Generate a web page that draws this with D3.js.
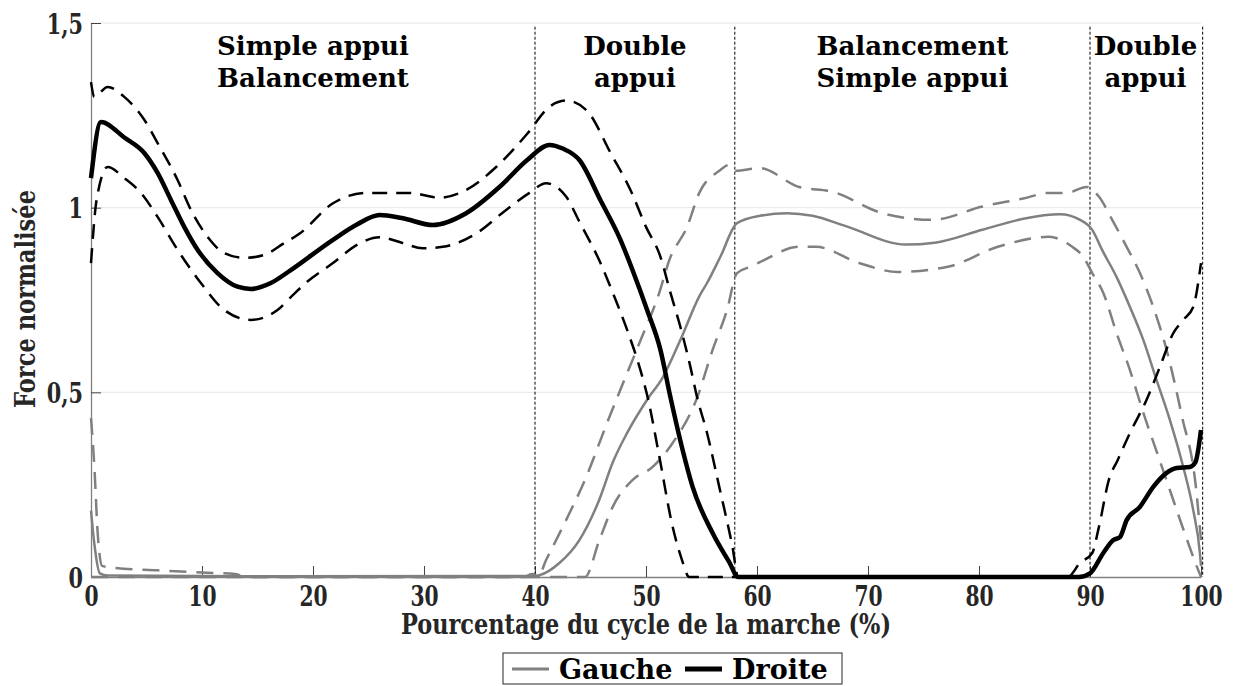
<!DOCTYPE html>
<html>
<head>
<meta charset="utf-8">
<script src="https://cdn.jsdelivr.net/npm/d3@7"></script>
<style>
  body { margin: 0; background: #fff; }
  svg text { font-family: "DejaVu Serif", serif; font-weight: bold; }
</style>
</head>
<body>
<div id="chart"></div>
<script>
// Droite (right foot): mean and +/- SD
const droiteP    = [0, 0.9, 3, 4.8, 6, 7.2, 8.4, 9.6, 11.4, 13.2, 14.4, 16.2, 18, 21.8, 24, 26, 28, 30.8, 33.8, 36.8, 39.3, 41.3, 42.5, 44, 45.9, 47.7, 48.8, 50.1, 51.3, 52.2, 53.3, 54.2, 56, 57.5, 58.3, 89, 90, 91.2, 92.1, 92.7, 93.3, 94.5, 95.7, 96.9, 97.8, 99, 99.5, 100];
const droiteMean = [1.08, 1.232, 1.19, 1.148, 1.094, 1.021, 0.948, 0.886, 0.823, 0.786, 0.78, 0.796, 0.831, 0.913, 0.955, 0.98, 0.972, 0.953, 0.985, 1.056, 1.129, 1.17, 1.16, 1.129, 1.02, 0.913, 0.83, 0.723, 0.615, 0.487, 0.344, 0.244, 0.119, 0.04, 0, 0, 0.01, 0.065, 0.1, 0.108, 0.154, 0.19, 0.244, 0.282, 0.295, 0.298, 0.311, 0.398];

const droiteHiP  = [0, 0.3, 1.5, 3, 4.8, 6, 7.8, 9, 10.5, 12, 13.8, 15.6, 17.4, 18.8, 21.8, 24.8, 28.7, 31.4, 33.8, 36.5, 39.3, 41.3, 42.8, 44.6, 46.9, 48.6, 50, 51.3, 52.2, 53.1, 54, 54.6, 55.5, 56.6, 57.8, 58.3, 88, 89.1, 90.2, 90.8, 91.7, 92.5, 93.6, 95.1, 96.3, 97.5, 98.4, 99.3, 100];
const droiteHi   = [1.34, 1.3, 1.327, 1.3, 1.238, 1.175, 1.075, 0.994, 0.921, 0.877, 0.864, 0.872, 0.904, 0.93, 1.012, 1.04, 1.04, 1.027, 1.048, 1.11, 1.2, 1.273, 1.29, 1.265, 1.143, 1.048, 0.948, 0.867, 0.77, 0.677, 0.569, 0.487, 0.39, 0.244, 0.08, 0, 0, 0.038, 0.065, 0.135, 0.263, 0.317, 0.39, 0.48, 0.569, 0.66, 0.696, 0.731, 0.85];

const droiteLoP  = [0, 0.5, 1.5, 3, 4.5, 6, 7.8, 9.9, 12, 14.4, 16.8, 18, 19.5, 21.8, 24, 26, 28, 29.9, 31.7, 34.7, 37.4, 39.5, 41, 42.8, 44, 45.9, 47, 48.3, 49.5, 50.2, 51.2, 52.4, 53.2, 53.9, 89];
const droiteLo   = [0.85, 1.02, 1.11, 1.08, 1.04, 0.975, 0.886, 0.796, 0.723, 0.696, 0.723, 0.758, 0.8, 0.85, 0.9, 0.92, 0.905, 0.89, 0.894, 0.93, 0.994, 1.04, 1.066, 1.03, 0.962, 0.85, 0.77, 0.669, 0.56, 0.48, 0.326, 0.136, 0.05, 0, 0];

// Gauche (left foot): mean and +/- SD
const gaucheP    = [0, 0.3, 0.8, 1.5, 14, 40, 40.4, 42.2, 44, 45.8, 47, 48.3, 50.1, 51.5, 53.1, 54.8, 55.5, 56.7, 58.2, 60.3, 62.7, 65, 68, 73.4, 76, 80.3, 84, 87.3, 89.1, 90.2, 91.1, 92.4, 93.6, 94.8, 96, 97.2, 98.4, 99.3, 99.9, 100];
const gaucheMean = [0.18, 0.09, 0.01, 0.004, 0.002, 0.003, 0.005, 0.038, 0.1, 0.21, 0.31, 0.39, 0.48, 0.54, 0.642, 0.76, 0.796, 0.867, 0.958, 0.978, 0.985, 0.978, 0.95, 0.9, 0.905, 0.94, 0.97, 0.982, 0.967, 0.94, 0.885, 0.812, 0.731, 0.642, 0.533, 0.425, 0.298, 0.181, 0.065, 0.03];

const gaucheHiP  = [0, 0.3, 0.6, 1, 2, 6, 10, 13, 14, 39, 39.7, 40.3, 41, 42.8, 44.6, 46.4, 47.5, 49.4, 51.2, 52.1, 53.7, 54.8, 56.6, 57.5, 58.1, 60.2, 63.8, 66.8, 71.3, 75.8, 80.3, 84, 86.3, 87.9, 89.7, 90.8, 92, 93.3, 94.5, 95.7, 96.9, 98.3, 99.5, 100];
const gaucheHi   = [0.43, 0.3, 0.12, 0.03, 0.025, 0.018, 0.012, 0.008, 0, 0, 0.008, 0.003, 0.046, 0.154, 0.27, 0.41, 0.493, 0.633, 0.77, 0.858, 0.948, 1.04, 1.1, 1.116, 1.1, 1.107, 1.056, 1.043, 0.985, 0.967, 1.003, 1.025, 1.04, 1.04, 1.056, 1.03, 0.967, 0.894, 0.823, 0.731, 0.615, 0.433, 0.254, 0.1];

const gaucheLoP  = [0, 44.5, 45.8, 47, 48.8, 50.6, 52.4, 54.6, 56, 57.3, 58.2, 59.4, 60.3, 63.8, 65.3, 69.2, 72.7, 77.2, 81.7, 86.3, 88.4, 89.4, 90.2, 91.2, 92.4, 93.6, 94.8, 96, 97.2, 98.4, 99.6, 100];
const gaucheLo   = [0, 0, 0.1, 0.19, 0.263, 0.298, 0.363, 0.485, 0.615, 0.723, 0.823, 0.84, 0.853, 0.894, 0.894, 0.85, 0.826, 0.84, 0.894, 0.921, 0.894, 0.867, 0.823, 0.769, 0.66, 0.56, 0.445, 0.34, 0.235, 0.13, 0.03, 0];

// gait phases
const phaseBounds = [40, 58, 90, 100.15];
const phaseLabels = [
  { from: 0,  to: 40,  lines: ["Simple appui", "Balancement"] },
  { from: 40, to: 58,  lines: ["Double", "appui"] },
  { from: 58, to: 90,  lines: ["Balancement", "Simple appui"] },
  { from: 90, to: 100, lines: ["Double", "appui"] }
];

const xTicks = [0, 10, 20, 30, 40, 50, 60, 70, 80, 90, 100];
const yTicks = [0, 0.5, 1, 1.5];

const W = 1236, H = 686;
const margin = { left: 91, right: 35, top: 23, bottom: 109 };

const svg = d3.select('#chart').append('svg')
  .attr('width', W).attr('height', H);

const x = d3.scaleLinear().domain([0, 100]).range([margin.left, W - margin.right]);
const y = d3.scaleLinear().domain([0, 1.5]).range([H - margin.bottom, margin.top]);

// squeeze text horizontally (the original font is tall and narrow)
function squeeze(sel, f) {
  sel.each(function() {
    const w = this.getComputedTextLength();
    d3.select(this).attr('textLength', w * f).attr('lengthAdjust', 'spacingAndGlyphs');
  });
}

// grid
svg.append('g').selectAll('line')
  .data(yTicks.filter(d => d > 0)).enter()
  .append('line')
  .attr('x1', x(0)).attr('x2', x(100))
  .attr('y1', d => y(d)).attr('y2', d => y(d))
  .attr('stroke', '#e6e6e6').attr('stroke-width', 1);

// axes
const fmt = d => String(d).replace('.', ',');
const xAxis = svg.append('g')
  .attr('transform', `translate(0,${y(0)})`)
  .call(d3.axisBottom(x).tickValues(xTicks).tickSizeInner(-11).tickSizeOuter(0).tickFormat(fmt));
const yAxis = svg.append('g')
  .attr('transform', `translate(${x(0)},0)`)
  .call(d3.axisLeft(y).tickValues(yTicks).tickSizeInner(-10).tickSizeOuter(0).tickFormat(fmt));

[xAxis, yAxis].forEach(a => {
  a.select('.domain').attr('stroke', '#808080').attr('stroke-width', 1.3);
  a.selectAll('.tick line').attr('stroke', '#444').attr('stroke-width', 1);
  a.selectAll('.tick text').attr('fill', '#262626').style('font-size', '27px')
    .style('font-family', '"DejaVu Serif", serif').style('font-weight', 'bold');
});
xAxis.selectAll('.tick text').attr('dy', null).attr('y', 29);
yAxis.selectAll('.tick text').attr('x', -8).attr('dy', '0.37em');
squeeze(xAxis.selectAll('.tick text'), 0.75);
squeeze(yAxis.selectAll('.tick text'), 0.77);

// phase separators
svg.append('g').selectAll('line')
  .data(phaseBounds).enter()
  .append('line')
  .attr('x1', d => x(d)).attr('x2', d => x(d))
  .attr('y1', y(1.49)).attr('y2', y(0))
  .attr('stroke', '#000').attr('stroke-width', 1)
  .attr('stroke-dasharray', '3,2');

// phase labels
const pl = svg.append('g').selectAll('text')
  .data(phaseLabels).enter()
  .append('text')
  .attr('x', d => x((d.from + d.to) / 2))
  .attr('text-anchor', 'middle')
  .style('font-size', '26px')
  .attr('fill', '#000');
pl.selectAll('tspan')
  .data(d => d.lines).enter()
  .append('tspan')
  .attr('x', function() { return d3.select(this.parentNode).attr('x'); })
  .attr('y', (d, i) => 55 + i * 32)
  .text(d => d);

// curves
const line = d3.line()
  .x(d => x(d[0])).y(d => y(d[1]))
  .curve(d3.curveMonotoneX);

const series = [
  { p: gaucheHiP,  v: gaucheHi,   color: '#808080', w: 2.5, dash: '17,10' },
  { p: gaucheLoP,  v: gaucheLo,   color: '#808080', w: 2.5, dash: '17,10' },
  { p: gaucheP,    v: gaucheMean, color: '#808080', w: 2.5, dash: null },
  { p: droiteHiP,  v: droiteHi,   color: '#000',    w: 2.5, dash: '15,9' },
  { p: droiteLoP,  v: droiteLo,   color: '#000',    w: 2.5, dash: '15,9' },
  { p: droiteP,    v: droiteMean, color: '#000',    w: 4.5, dash: null }
];

svg.append('g').selectAll('path')
  .data(series).enter()
  .append('path')
  .attr('d', s => line(s.p.map((p, i) => [p, s.v[i]])))
  .attr('fill', 'none')
  .attr('stroke', s => s.color)
  .attr('stroke-width', s => s.w)
  .attr('stroke-dasharray', s => s.dash)
  .attr('stroke-linejoin', 'round');

// axis titles
svg.append('text')
  .attr('x', x(50)).attr('y', 634)
  .attr('text-anchor', 'middle')
  .attr('fill', '#262626')
  .style('font-size', '27px')
  .attr('textLength', 490).attr('lengthAdjust', 'spacingAndGlyphs')
  .text('Pourcentage du cycle de la marche (%)');

svg.append('text')
  .attr('transform', 'translate(35,299) rotate(-90)')
  .attr('text-anchor', 'middle')
  .attr('fill', '#262626')
  .style('font-size', '27px')
  .attr('textLength', 218).attr('lengthAdjust', 'spacingAndGlyphs')
  .text('Force normalisée');

// legend
const lg = svg.append('g');
lg.append('rect')
  .attr('x', 503).attr('y', 653).attr('width', 339).attr('height', 31)
  .attr('fill', '#fff').attr('stroke', '#262626').attr('stroke-width', 1);
const legendItems = [
  { name: 'Gauche', color: '#808080', w: 3, x0: 512 },
  { name: 'Droite', color: '#000',    w: 5, x0: 685 }
];
legendItems.forEach(it => {
  lg.append('line')
    .attr('x1', it.x0).attr('x2', it.x0 + 37)
    .attr('y1', 669).attr('y2', 669)
    .attr('stroke', it.color).attr('stroke-width', it.w);
  lg.append('text')
    .attr('x', it.x0 + 47).attr('y', 679)
    .attr('fill', '#000')
    .style('font-size', '27px')
    .text(it.name);
});
</script>
</body>
</html>
